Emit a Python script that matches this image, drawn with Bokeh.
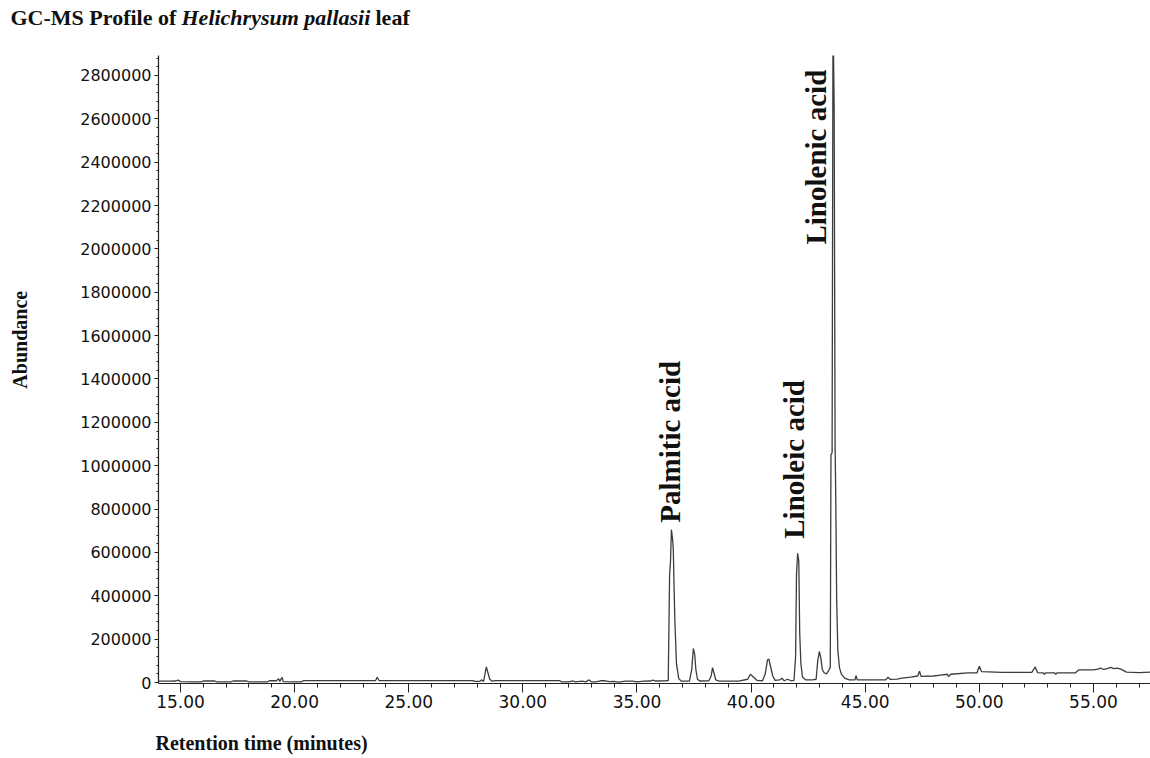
import math
from bokeh.plotting import figure
from bokeh.layouts import column, row
from bokeh.models import Range1d, Label, FixedTicker, NumeralTickFormatter
from bokeh.embed import file_html
from bokeh.resources import INLINE

# ---------------- data ----------------
time_min = [
    14.05, 14.5, 14.8, 14.9, 15.0, 15.5, 15.9, 16.0, 16.5, 16.6, 17.2, 17.3, 17.9, 18.0,
    18.8, 18.9, 19.2, 19.3, 19.35, 19.45, 19.5, 19.9, 20.3, 20.4, 23.55, 23.62, 23.7,
    27.8, 27.9, 28.1, 28.2, 28.28, 28.35, 28.4, 28.47, 28.55, 28.65, 28.8, 31.6, 31.7,
    32.0, 32.2, 32.3, 32.6, 32.75, 32.9, 33.0, 33.2, 33.4, 33.6, 33.8, 34.0, 34.2, 34.5,
    34.8, 35.0, 35.3, 35.6, 35.7, 35.8, 36.25,
    36.37, 36.43, 36.47, 36.51, 36.56, 36.59, 36.63, 36.66, 36.73, 36.83, 36.95,
    37.30, 37.40, 37.47, 37.53, 37.58, 37.65, 37.75,
    38.15, 38.25, 38.31, 38.37, 38.45, 38.6, 39.0, 39.5, 39.85, 39.97, 40.1, 40.25, 40.5,
    40.62, 40.72, 40.78, 40.85, 40.95, 41.05, 41.25, 41.35, 41.45, 41.6, 41.75, 41.88,
    41.95, 41.99, 42.04, 42.09, 42.13, 42.18, 42.25, 42.4, 42.7, 42.85, 42.92, 42.99,
    43.06, 43.12, 43.2, 43.3, 43.4, 43.47,
    43.50, 43.55, 43.59, 43.64, 43.68, 43.71, 43.75, 43.8, 43.87, 43.95, 44.1, 44.3,
    44.55, 44.6, 44.65, 45.9, 46.0, 46.1, 46.4, 46.6, 47.0, 47.3, 47.38, 47.45, 48.0,
    48.3, 48.6, 48.65, 48.75, 49.5, 49.9, 50.0, 50.1, 51.0, 52.3, 52.45, 52.55, 52.8,
    52.85, 52.9, 53.3, 53.35, 53.4, 54.2, 54.35, 55.0, 55.2, 55.3, 55.45, 55.6, 55.75,
    55.9, 56.05, 56.2, 56.45, 57.0, 57.48,
]
abundance = [
    6000, 6000, 7000, 11000, 4000, 3000, 3000, 7000, 7000, 3000, 3000, 7000, 7000, 3000,
    3000, 8000, 8000, 17000, 5000, 24000, 4000, 3000, 3000, 9000, 9000, 24000, 9000,
    9000, 5000, 5000, 12000, 5000, 45000, 72000, 45000, 15000, 6000, 9000, 9000, 3000,
    3000, 7000, 3000, 6000, 3000, 12000, 3000, 3000, 8000, 8000, 4000, 5000, 2000, 6000,
    6000, 3000, 6000, 7000, 11000, 7000, 8000,
    9000, 500000, 560000, 705000, 660000, 620000, 420000, 286000, 88000, 18000, 6000,
    7000, 60000, 157000, 130000, 60000, 15000, 7000,
    8000, 30000, 69000, 45000, 12000, 6000, 6000, 7000, 15000, 38000, 25000, 10000, 8000,
    40000, 105000, 108000, 75000, 30000, 10000, 12000, 20000, 8000, 15000, 8000, 10000,
    120000, 500000, 596000, 560000, 230000, 90000, 25000, 12000, 12000, 15000, 100000, 143000,
    110000, 60000, 45000, 40000, 55000, 70000,
    1050000, 1060000, 3100000, 2650000, 1100000, 850000, 380000, 150000, 70000, 40000, 20000, 12000,
    12000, 32000, 12000, 12000, 24000, 14000, 16000, 20000, 25000, 30000, 52000, 28000, 30000,
    34000, 38000, 28000, 38000, 44000, 45000, 75000, 50000, 47000, 47000, 72000, 46000, 44000,
    38000, 44000, 44000, 38000, 44000, 44000, 58000, 58000, 62000, 66000, 60000, 64000, 70000,
    64000, 66000, 62000, 48000, 46000, 48000,
]

peak_names = ["Palmitic acid", "Linoleic acid", "Linolenic acid"]
peak_label_time = [36.46, 41.86, 42.86]
peak_label_base = [737000, 663000, 2020000]

x_ticks = [15, 20, 25, 30, 35, 40, 45, 50, 55]
y_ticks = [i * 200000 for i in range(15)]

title_parts = ["GC-MS Profile of ", "Helichrysum pallasii", "leaf"]
x_title = "Retention time (minutes)"
y_title = "Abundance"

# ---------------- layout (pixels) ----------------
TOTAL_W, TOTAL_H = 1150, 758
TITLE_H = 45
LEFT_W = 40
MAIN_H = 676
BOTTOM_H = TOTAL_H - TITLE_H - MAIN_H
TXT = "#111111"


def strip(width, height):
    f = figure(width=width, height=height, output_backend="svg", toolbar_location=None,
               x_axis_type=None, y_axis_type=None,
               x_range=Range1d(0, width), y_range=Range1d(0, height),
               min_border=0, min_border_left=0, min_border_right=0,
               min_border_top=0, min_border_bottom=0)
    f.outline_line_color = None
    f.grid.visible = False
    return f


# title strip (mixed bold / bold-italic text)
title_fig = strip(TOTAL_W, TITLE_H)
tx = [10, 181, 375]
styles = ["bold", "bold italic", "bold"]
for txt, x0, st in zip(title_parts, tx, styles):
    title_fig.add_layout(Label(x=x0, y=28, text=txt, text_align="left",
                               text_baseline="alphabetic", text_font="Liberation Serif",
                               text_font_style=st, text_font_size="22px", text_color=TXT))

# left strip with the y title
left_fig = strip(LEFT_W, MAIN_H)
left_fig.add_layout(Label(x=19, y=(TITLE_H + MAIN_H) - 351, text=y_title, angle=math.pi / 2,
                          text_align="center", text_baseline="middle",
                          text_font="Liberation Serif", text_font_style="bold",
                          text_font_size="20px", text_color=TXT))

# bottom strip with the x title
bottom_fig = strip(TOTAL_W, BOTTOM_H)
bottom_fig.add_layout(Label(x=155, y=16, text=x_title, text_align="left",
                            text_baseline="alphabetic", text_font="Liberation Serif",
                            text_font_style="bold", text_font_size="20px", text_color=TXT))

# main chromatogram
p = figure(width=TOTAL_W - LEFT_W, height=MAIN_H, output_backend="svg", toolbar_location=None,
           x_range=Range1d(14.036, 57.50), y_range=Range1d(-4600, 2892000),
           min_border_left=158 - LEFT_W, min_border_right=0,
           min_border_top=55 - TITLE_H, min_border_bottom=MAIN_H - (683 - TITLE_H))
p.outline_line_color = None
p.xgrid.visible = False
p.ygrid.visible = False

p.line(time_min, abundance, line_color="#3c3c3c", line_width=1.3)

xa = p.xaxis[0]
xa.ticker = FixedTicker(ticks=x_ticks, minor_ticks=list(range(15, 58)))
xa.formatter = NumeralTickFormatter(format="0.00")
xa.axis_line_color = "#222222"
xa.axis_line_width = 1.2
xa.major_tick_line_color = "#222222"
xa.minor_tick_line_color = "#222222"
xa.major_tick_out = 9
xa.major_tick_in = 0
xa.minor_tick_out = 4
xa.minor_tick_in = 0
xa.major_label_standoff = 2
xa.major_label_text_font = "DejaVu Sans"
xa.major_label_text_font_size = "17px"
xa.major_label_text_color = TXT

ya = p.yaxis[0]
ya.ticker = FixedTicker(ticks=y_ticks, minor_ticks=[i * 40000 for i in range(73)])
ya.formatter = NumeralTickFormatter(format="0")
ya.axis_line_color = "#222222"
ya.axis_line_width = 1.2
ya.major_tick_line_color = "#222222"
ya.minor_tick_line_color = "#222222"
ya.major_tick_out = 4
ya.major_tick_in = 0
ya.minor_tick_out = 2
ya.minor_tick_in = 0
ya.major_label_standoff = 3
ya.major_label_text_font = "DejaVu Sans"
ya.major_label_text_font_size = "16px"
ya.major_label_text_color = TXT

for name, t, base in zip(peak_names, peak_label_time, peak_label_base):
    p.add_layout(Label(x=t, y=base, text=name, angle=math.pi / 2,
                       text_align="left", text_baseline="middle",
                       text_font="Liberation Serif", text_font_style="bold",
                       text_font_size="29px", text_color=TXT))

layout = column(title_fig, row(left_fig, p), bottom_fig)

open("out.html", "w").write(file_html(layout, INLINE))
